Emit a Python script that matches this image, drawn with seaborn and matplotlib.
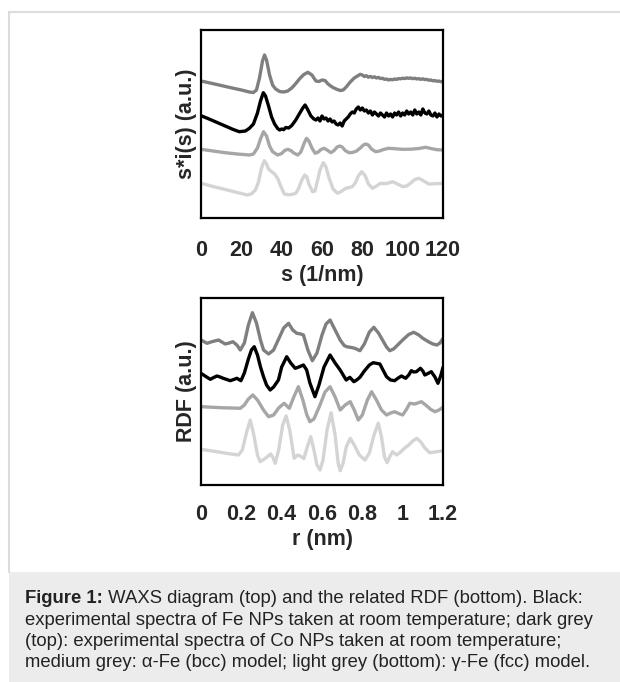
import numpy as np
import pandas as pd
import matplotlib
matplotlib.use("Agg")
import matplotlib.pyplot as plt
import seaborn as sns

# ---- WAXS (top): s in 1/nm, intensity in a.u. (curves stacked)
s_co = [0, 5, 10, 15, 20, 24, 26, 27.5, 29, 30.5, 31.5, 32.5, 34, 35.5, 37, 39, 41, 43, 45, 47, 49, 51, 53, 55,
        57, 58.5, 60, 61.5, 63, 65, 67, 69, 70.5, 72, 74, 76, 78, 79, 80, 81, 82, 83, 84, 85, 86, 87, 88, 89, 90,
        91, 92, 93, 94, 95, 96, 97, 98, 99, 100, 101, 102, 103, 104, 105, 106, 107, 108, 109, 110, 111, 112,
        113, 114, 115, 116, 117, 118, 119, 120]
i_co = [137, 134.8, 132.5, 130.2, 128, 126, 125.5, 128, 140, 157, 163, 158, 143, 133, 129, 126.5, 126, 127, 130,
        134.5, 139.5, 143.5, 145.7, 143, 137, 136.5, 138, 137.5, 134, 131, 129, 127.5, 128, 131, 136, 140, 142.5,
        143.7, 143, 141.5, 142.3, 140.8, 141.6, 140.5, 141.2, 140, 140.6, 139.4, 139.8, 138.6, 139, 138, 138.6,
        138.2, 139, 138.6, 139.4, 139.2, 139.8, 139.4, 140.1, 139.7, 140, 139.3, 139.8, 139, 139.4, 138.6, 139.2,
        138.4, 138.6, 137.8, 138, 137.2, 137.4, 136.8, 136.9, 136.3, 136.3]

s_fe = [0, 4, 8, 12, 16, 19, 22, 24, 26, 28, 29.5, 30.9, 32, 33.5, 35, 36.5, 38, 39, 40, 41, 42, 43.5, 45, 47, 49,
        50.5, 51.6, 52.5, 53.5, 54.5, 55, 56, 57, 58, 59, 60, 61, 62, 63, 64, 65, 66, 67, 68, 69, 70, 71, 72, 73,
        74, 75, 76, 77, 78, 79, 80, 81, 82, 83, 84, 85, 86, 87, 88, 89, 90, 91, 92, 93, 94, 95, 96, 97, 98, 99,
        100, 101, 102, 103, 104, 105, 106, 107, 108, 109, 110, 111, 112, 113, 114, 115, 116, 117, 118, 119, 120]
i_fe = [102.3, 99, 95.5, 92, 88.5, 86.3, 87, 89.7, 94, 105, 117, 125.3, 122, 112, 101, 94, 89.5, 88, 89, 88.3, 90.5,
        90, 92.5, 98, 105, 110, 113, 110, 106, 102, 101, 99, 98, 100, 97, 102, 99, 100, 97, 99, 96, 97, 94, 93, 95,
        92, 97, 99, 101, 104, 106, 105, 109, 111, 108, 110, 107, 108, 105, 107, 103, 106, 104, 102, 105, 103, 101,
        105, 102, 104, 101, 105, 103, 106, 102, 105, 103, 107, 104, 106, 103, 108, 104, 106, 103, 109, 105, 104,
        107, 103, 102, 105, 101, 104, 102, 103]

s_bcc = [0, 6, 12, 18, 24, 26, 28, 29.5, 31, 32.5, 34, 35.5, 38, 40, 41.5, 43, 44.5, 46, 48, 49.5, 51, 52.3, 53.5,
         55, 56.6, 58, 59.5, 61, 62.5, 64.4, 66, 67.5, 68.8, 70, 71.5, 73.4, 75, 77, 79, 80.5, 81.7, 83, 84.5, 86.6,
         88.5, 90.5, 93, 96, 100, 104, 108, 111.4, 114, 117, 120]
i_bcc = [68.7, 67, 65.3, 64, 63, 64, 70, 79, 86.3, 82, 72, 66.3, 63, 64.5, 67.5, 68.7, 67.5, 65, 63, 66, 74, 79.7,
         77, 70, 64.7, 65.8, 68.5, 69.7, 68, 65.3, 67.5, 71, 72, 71, 67.5, 65.3, 65.5, 66.8, 70, 73, 74, 73, 69, 66.3,
         67, 68.5, 69.7, 69.3, 68.7, 68.8, 69.5, 70.7, 69.5, 68.3, 68]

s_fcc = [0, 5, 10, 15, 20, 23, 25, 27, 28.5, 30, 31.4, 32.5, 33.5, 35, 36.5, 38, 39.5, 41.3, 43, 45, 47, 48.5, 50,
         51.5, 52.5, 53.5, 55.3, 56.5, 57.5, 59, 60.6, 62, 63.5, 65.5, 67.7, 69.5, 71.8, 73.5, 75, 76.5, 78, 79.7,
         81.5, 83, 85, 87, 89, 91, 93, 95, 97, 100, 102, 104, 106, 108, 110, 113, 116, 120]
i_fcc = [34.7, 32, 29.5, 27, 24.5, 23, 24.2, 28, 36, 50, 57.3, 54, 49, 46.3, 44, 39.7, 32, 24, 23.3, 23.5, 24.7, 30,
         38, 43, 41, 34, 26.3, 27, 35, 48, 55.3, 51, 40, 29, 24.7, 26.5, 29.7, 30.5, 31.3, 35, 42, 46.3, 42, 34, 29.7,
         32, 34.7, 34.3, 35, 36.3, 34.5, 31.3, 32, 35, 38.5, 39.7, 37.5, 34, 34.2, 34.7]

# ---- RDF (bottom): r in nm
r_co = [0, 0.03, 0.054, 0.087, 0.12, 0.14, 0.158, 0.178, 0.195, 0.215, 0.235, 0.255, 0.275, 0.295, 0.31, 0.335,
        0.36, 0.385, 0.41, 0.434, 0.455, 0.475, 0.495, 0.508, 0.53, 0.552, 0.575, 0.6, 0.62, 0.64, 0.665, 0.69,
        0.71, 0.722, 0.745, 0.763, 0.788, 0.81, 0.835, 0.857, 0.88, 0.9, 0.92, 0.936, 0.955, 0.975, 1.0, 1.03,
        1.055, 1.08, 1.10, 1.13, 1.15, 1.17, 1.185, 1.2]
g_co = [145, 141.7, 143.3, 145, 141, 142, 143.3, 140, 135, 142, 160, 172.3, 162, 145, 135, 131, 135, 146, 157, 161.7,
        155, 151.7, 151, 150, 135, 124.3, 132, 150, 161, 165, 155, 145, 139.5, 138.3, 137.5, 136.7, 134.3, 141, 153,
        157.7, 152, 145, 138, 134.3, 136, 140, 145, 150.5, 152.7, 150, 146.7, 143, 141, 140, 142, 146.7]

r_fe = [0, 0.02, 0.046, 0.063, 0.079, 0.095, 0.11, 0.128, 0.145, 0.162, 0.178, 0.188, 0.198, 0.215, 0.235, 0.25,
        0.264, 0.28, 0.295, 0.31, 0.325, 0.343, 0.36, 0.384, 0.40, 0.425, 0.445, 0.467, 0.485, 0.508, 0.524, 0.54,
        0.565, 0.585, 0.61, 0.64, 0.665, 0.69, 0.705, 0.72, 0.738, 0.758, 0.772, 0.788, 0.81, 0.835, 0.854, 0.887,
        0.905, 0.92, 0.94, 0.96, 0.978, 0.994, 1.015, 1.03, 1.043, 1.055, 1.068, 1.088, 1.10, 1.11, 1.125, 1.142,
        1.16, 1.175, 1.19, 1.2]
g_fe = [111.7, 109, 105.7, 107.5, 109, 108, 106.7, 105.5, 104.3, 105.5, 106.7, 105.5, 104.3, 112, 126, 135, 138.3,
        130, 118, 108.3, 100, 95, 98, 105, 118, 128.3, 122, 116.7, 118, 120, 115, 102, 88.3, 100, 118, 130, 122, 115,
        110, 105, 107.7, 103.3, 105, 107.7, 114, 120, 122.3, 121, 114, 108.3, 105, 104.3, 107, 109, 106.7, 110, 114.3,
        113, 113.3, 116.7, 114, 110, 111.5, 113.3, 108, 101.7, 110, 117.7]

r_bcc = [0, 0.05, 0.1, 0.15, 0.195, 0.215, 0.235, 0.257, 0.28, 0.31, 0.335, 0.36, 0.385, 0.412, 0.438, 0.46, 0.483,
         0.505, 0.525, 0.54, 0.56, 0.59, 0.615, 0.64, 0.665, 0.69, 0.715, 0.74, 0.76, 0.78, 0.8, 0.825, 0.846, 0.87,
         0.895, 0.92, 0.94, 0.96, 0.98, 1.0, 1.02, 1.035, 1.06, 1.093, 1.12, 1.14, 1.16, 1.18, 1.2]
g_bcc = [78.3, 77.8, 77.3, 77, 76.7, 80, 86, 90, 85, 75, 68.3, 70, 77, 81.7, 76.7, 88, 98.3, 85, 70, 63.3, 66, 80, 93,
         98.3, 88, 75, 80, 83.3, 75, 65, 70, 85, 93.3, 85, 75, 70, 72, 73.3, 71.5, 70, 76, 81.7, 81, 83.3, 79, 75.5,
         73.3, 75, 77.7]

r_fcc = [0, 0.04, 0.079, 0.13, 0.186, 0.205, 0.225, 0.244, 0.262, 0.28, 0.293, 0.315, 0.346, 0.358, 0.368, 0.385,
         0.405, 0.422, 0.44, 0.462, 0.48, 0.495, 0.51, 0.527, 0.544, 0.56, 0.575, 0.59, 0.605, 0.625, 0.645, 0.665,
         0.68, 0.69, 0.705, 0.72, 0.74, 0.76, 0.785, 0.813, 0.835, 0.858, 0.879, 0.895, 0.91, 0.923, 0.935, 0.95,
         0.97, 0.99, 1.01, 1.03, 1.05, 1.07, 1.09, 1.11, 1.134, 1.16, 1.2]
g_fcc = [35.7, 34.5, 33.3, 31.5, 30, 35, 52, 65, 50, 30, 23.3, 26, 31, 27, 21.7, 35, 60, 69, 55, 26.7, 30, 28.5, 26.5,
         38, 48.3, 35, 20, 15, 25, 55, 72.3, 50, 22, 14.3, 22, 38, 46.7, 40, 30, 25, 32, 50, 61.7, 48, 28, 22.3, 28,
         33.3, 30, 33, 37, 40, 44, 46.7, 43, 37, 32.3, 33, 34.3]

s_ticks = [0, 20, 40, 60, 80, 100, 120]
r_ticks = [0, 0.2, 0.4, 0.6, 0.8, 1.0, 1.2]
r_labels = ["0", "0.2", "0.4", "0.6", "0.8", "1", "1.2"]

series = ["fcc", "bcc", "Fe", "Co"]
colors = {"Co": "#7f7f7f", "Fe": "#000000", "bcc": "#a6a6a6", "fcc": "#d4d4d4"}

caption = [
    "WAXS diagram (top) and the related RDF (bottom). Black:",
    "experimental spectra of Fe NPs taken at room temperature; dark grey",
    "(top): experimental spectra of Co NPs taken at room temperature;",
    "medium grey: \u03b1-Fe (bcc) model; light grey (bottom): \u03b3-Fe (fcc) model.",
]


def long_df(parts):
    rows = []
    for name, xs, ys in parts:
        rows.append(pd.DataFrame({"x": xs, "y": ys, "series": name}))
    return pd.concat(rows, ignore_index=True)


waxs = long_df([("fcc", s_fcc, i_fcc), ("bcc", s_bcc, i_bcc), ("Fe", s_fe, i_fe), ("Co", s_co, i_co)])
rdf = long_df([("fcc", r_fcc, g_fcc), ("bcc", r_bcc, g_bcc), ("Fe", r_fe, g_fe), ("Co", r_co, g_co)])

sns.set_theme(style="white")
plt.rcParams["font.family"] = ["Liberation Sans", "DejaVu Sans"]

W, H = 620, 682
fig = plt.figure(figsize=(W / 100, H / 100), dpi=100)
fig.patch.set_facecolor("white")

# page frame and caption box
fig.add_artist(plt.Line2D([8.5 / W, 1], [1 - 12 / H, 1 - 12 / H], color="#dcdcdc", lw=1.5))
fig.add_artist(plt.Line2D([8.5 / W, 8.5 / W], [1 - 12 / H, 1 - 572 / H], color="#dcdcdc", lw=1.5))
fig.add_artist(plt.Rectangle((9 / W, 0), 1, 1 - 572 / H, transform=fig.transFigure,
                             facecolor="#ececec", edgecolor="none"))

ax1 = fig.add_axes([201 / W, 1 - 218 / H, 242 / W, 188 / H])
ax2 = fig.add_axes([201 / W, 1 - 485 / H, 242 / W, 187 / H])

fs = 15.5
for ax, df in [(ax1, waxs), (ax2, rdf)]:
    sns.lineplot(data=df, x="x", y="y", hue="series", hue_order=series, palette=colors,
                 estimator=None, sort=False, lw=2.4, legend=False, ax=ax)
    ax.set_yticks([])
    for sp in ax.spines.values():
        sp.set_visible(True)
        sp.set_color("black")
        sp.set_linewidth(1.6)
    ax.tick_params(axis="x", length=0)

ax1.set_xlim(0, 120)
ax1.set_ylim(0, 188)
ax1.set_xticks(s_ticks)
ax1.set_xticklabels([str(t) for t in s_ticks], fontweight="bold", fontsize=fs)
ax1.tick_params(axis="x", pad=16)
ax1.set_xlabel("s (1/nm)", fontsize=fs, fontweight="bold", labelpad=2.5)
ax1.set_ylabel("s*i(s) (a.u.)", fontsize=fs, fontweight="bold", labelpad=3)

ax2.set_xlim(0, 1.2)
ax2.set_ylim(0, 187)
ax2.set_xticks(r_ticks)
ax2.set_xticklabels(r_labels, fontweight="bold", fontsize=fs)
ax2.tick_params(axis="x", pad=14)
ax2.set_xlabel("r (nm)", fontsize=fs, fontweight="bold", labelpad=2.5)
ax2.set_ylabel("RDF (a.u.)", fontsize=fs, fontweight="bold", labelpad=3)

# caption
cs = 13.3
baselines = [603, 625, 646, 667]
t0 = fig.text(25 / W, 1 - baselines[0] / H, "Figure 1:", fontsize=cs, fontweight="bold",
              va="baseline", ha="left", color="#222222")
fig.canvas.draw()
bb = t0.get_window_extent()
fig.text(bb.x1 / W, 1 - baselines[0] / H, " " + caption[0], fontsize=cs, va="baseline", ha="left",
         color="#222222")
for line, yb in zip(caption[1:], baselines[1:]):
    fig.text(25 / W, 1 - yb / H, line, fontsize=cs, va="baseline", ha="left", color="#222222")

fig.savefig("out.png", dpi=100)
